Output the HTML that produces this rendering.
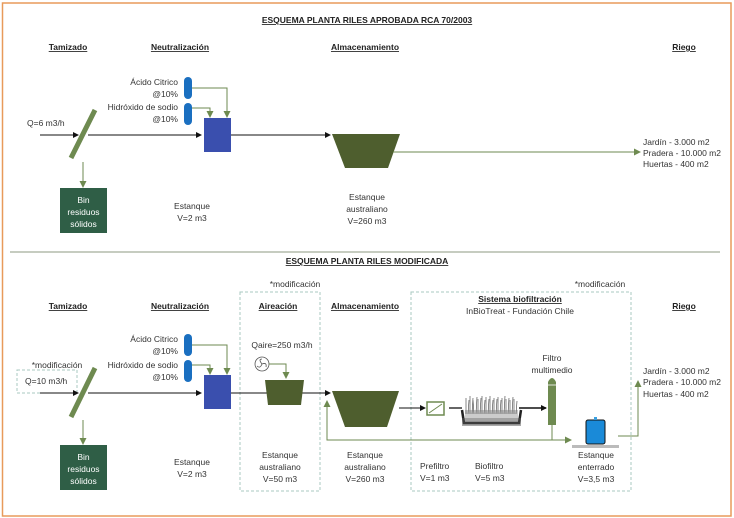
<!DOCTYPE html>
<html><head><meta charset="utf-8"><style>
html,body{margin:0;padding:0;background:#fff}
svg{display:block}
text{font-family:"Liberation Sans",sans-serif;fill:#333;font-size:8.5px}
.h{font-weight:bold;text-decoration:underline;fill:#222}
.w{fill:#fff}
</style></head><body>
<svg width="734" height="518" viewBox="0 0 734 518" xmlns="http://www.w3.org/2000/svg">
<defs>
<marker id="ab" markerWidth="6" markerHeight="6" refX="5" refY="3" orient="auto" markerUnits="userSpaceOnUse"><path d="M0,0 L6,3 L0,6z" fill="#111"/></marker>
<marker id="ag" markerWidth="7" markerHeight="7" refX="6" refY="3.5" orient="auto" markerUnits="userSpaceOnUse"><path d="M0,0 L7,3.5 L0,7z" fill="#6e8a50"/></marker>
</defs>
<rect x="2.5" y="3" width="728.5" height="513" fill="none" stroke="#e89a5a" stroke-width="1.5"/>
<line x1="10" y1="252" x2="720" y2="252" stroke="#8c9a80" stroke-width="1"/>

<!-- TOP -->
<text x="367" y="23" class="h" text-anchor="middle" font-size="9">ESQUEMA PLANTA RILES APROBADA RCA 70/2003</text>
<text x="68" y="50" class="h" text-anchor="middle">Tamizado</text>
<text x="180" y="50" class="h" text-anchor="middle">Neutralización</text>
<text x="365" y="50" class="h" text-anchor="middle">Almacenamiento</text>
<text x="684" y="50" class="h" text-anchor="middle">Riego</text>
<text x="27" y="126">Q=6 m3/h</text>
<line x1="40" y1="135" x2="78" y2="135" stroke="#111" marker-end="url(#ab)"/>
<line x1="88" y1="135" x2="201" y2="135" stroke="#111" marker-end="url(#ab)"/>
<line x1="231" y1="135" x2="330" y2="135" stroke="#111" marker-end="url(#ab)"/>
<line x1="95" y1="110" x2="71" y2="158" stroke="#6e8a50" stroke-width="5"/>
<line x1="83" y1="162" x2="83" y2="187" stroke="#6e8a50" marker-end="url(#ag)"/>
<rect x="60" y="188" width="47" height="45" fill="#2f5e46"/>
<text x="83.5" y="203" class="w" text-anchor="middle">Bin</text>
<text x="83.5" y="215" class="w" text-anchor="middle">residuos</text>
<text x="83.5" y="227" class="w" text-anchor="middle">sólidos</text>
<text x="178" y="85" text-anchor="end">Ácido Citrico</text>
<text x="178" y="97" text-anchor="end">@10%</text>
<text x="178" y="110" text-anchor="end">Hidróxido de sodio</text>
<text x="178" y="122" text-anchor="end">@10%</text>
<rect x="184" y="77" width="8" height="22" rx="4" fill="#1a6fc0"/>
<rect x="184" y="103" width="8" height="22" rx="4" fill="#1a6fc0"/>
<polyline points="192,88 227,88 227,117" fill="none" stroke="#6e8a50" marker-end="url(#ag)"/>
<polyline points="192,108 210,108 210,117" fill="none" stroke="#6e8a50" marker-end="url(#ag)"/>
<rect x="204" y="118" width="27" height="34" fill="#3a4fae"/>
<polygon points="332,134 400,134 388,168 345,168" fill="#4e5e2e"/>
<line x1="393" y1="152" x2="640" y2="152" stroke="#6e8a50" marker-end="url(#ag)"/>
<text x="643" y="145">Jardín   - 3.000 m2</text>
<text x="643" y="156">Pradera - 10.000 m2</text>
<text x="643" y="167">Huertas - 400 m2</text>
<text x="192" y="209" text-anchor="middle">Estanque</text>
<text x="192" y="221" text-anchor="middle">V=2 m3</text>
<text x="367" y="200" text-anchor="middle">Estanque</text>
<text x="367" y="212" text-anchor="middle">australiano</text>
<text x="367" y="224" text-anchor="middle">V=260 m3</text>

<!-- BOTTOM -->
<text x="367" y="264" class="h" text-anchor="middle" font-size="9">ESQUEMA PLANTA RILES MODIFICADA</text>
<text x="68" y="309" class="h" text-anchor="middle">Tamizado</text>
<text x="180" y="309" class="h" text-anchor="middle">Neutralización</text>
<text x="278" y="309" class="h" text-anchor="middle">Aireación</text>
<text x="365" y="309" class="h" text-anchor="middle">Almacenamiento</text>
<text x="520" y="302" class="h" text-anchor="middle">Sistema biofiltración</text>
<text x="520" y="314" text-anchor="middle">InBioTreat - Fundación Chile</text>
<text x="684" y="309" class="h" text-anchor="middle">Riego</text>
<text x="295" y="287" font-size="6" text-anchor="middle">*modificación</text>
<text x="600" y="287" font-size="6" text-anchor="middle">*modificación</text>
<text x="57" y="368" font-size="6" text-anchor="middle">*modificación</text>
<rect x="240" y="292" width="80" height="199" fill="none" stroke="#a8c8c0" stroke-dasharray="3,2"/>
<rect x="411" y="292" width="220" height="199" fill="none" stroke="#a8c8c0" stroke-dasharray="3,2"/>
<rect x="17" y="370" width="60" height="23" fill="none" stroke="#a8c8c0" stroke-dasharray="3,2"/>
<text x="25" y="384">Q=10 m3/h</text>
<line x1="40" y1="393" x2="78" y2="393" stroke="#111" marker-end="url(#ab)"/>
<line x1="88" y1="393" x2="201" y2="393" stroke="#111" marker-end="url(#ab)"/>
<line x1="231" y1="393" x2="330" y2="393" stroke="#111" marker-end="url(#ab)"/>
<line x1="95" y1="368" x2="71" y2="417" stroke="#6e8a50" stroke-width="5"/>
<line x1="83" y1="420" x2="83" y2="444" stroke="#6e8a50" marker-end="url(#ag)"/>
<rect x="60" y="445" width="47" height="45" fill="#2f5e46"/>
<text x="83.5" y="460" class="w" text-anchor="middle">Bin</text>
<text x="83.5" y="472" class="w" text-anchor="middle">residuos</text>
<text x="83.5" y="484" class="w" text-anchor="middle">sólidos</text>
<text x="178" y="342" text-anchor="end">Ácido Citrico</text>
<text x="178" y="354" text-anchor="end">@10%</text>
<text x="178" y="368" text-anchor="end">Hidróxido de sodio</text>
<text x="178" y="380" text-anchor="end">@10%</text>
<rect x="184" y="334" width="8" height="22" rx="4" fill="#1a6fc0"/>
<rect x="184" y="360" width="8" height="22" rx="4" fill="#1a6fc0"/>
<polyline points="192,345 227,345 227,374" fill="none" stroke="#6e8a50" marker-end="url(#ag)"/>
<polyline points="192,365 210,365 210,374" fill="none" stroke="#6e8a50" marker-end="url(#ag)"/>
<rect x="204" y="375" width="27" height="34" fill="#3a4fae"/>
<text x="282" y="348" font-size="9" text-anchor="middle">Qaire=250 m3/h</text>
<circle cx="262" cy="364" r="7" fill="#fff" stroke="#555" stroke-width="0.8"/>
<path d="M262,364 q-4,-5 0,-5 M262,364 q5,-2 4,3 M262,364 q-2,5 -5,2" fill="none" stroke="#555" stroke-width="0.8"/>
<polyline points="269,364 286,364 286,378" fill="none" stroke="#6e8a50" marker-end="url(#ag)"/>
<polygon points="265,380 304,380 301,405 268,405" fill="#4e5e2e"/>
<polygon points="332,391 399,391 387,427 345,427" fill="#4e5e2e"/>
<polyline points="570,440 327,440 327,401" fill="none" stroke="#6e8a50" marker-end="url(#ag)"/>
<line x1="552" y1="425" x2="552" y2="440" stroke="#6e8a50"/>
<line x1="540" y1="440" x2="571" y2="440" stroke="#6e8a50" marker-end="url(#ag)"/>
<line x1="399" y1="408" x2="425" y2="408" stroke="#111" marker-end="url(#ab)"/>
<rect x="427" y="402" width="17" height="13" fill="#fff" stroke="#6e8a50" stroke-width="1.5"/>
<line x1="429" y1="413" x2="442" y2="404" stroke="#6e8a50"/>
<line x1="449" y1="408" x2="462" y2="408" stroke="#333" stroke-width="1.5"/>
<path d="M462,410 L464,423 L519,423 L521,410" fill="none" stroke="#222" stroke-width="2.5"/>
<rect x="462" y="418" width="59" height="8" fill="#555" opacity="0.5"/>
<rect x="465" y="410" width="53" height="11" fill="#999" opacity="0.5"/>
<g stroke="#555" stroke-width="0.7">
<path d="M466,414 l0,-16 M468,414 l1,-14 M470,414 l0,-18 M472,414 l1,-16 M474,414 l-1,-14 M476,414 l1,-17 M478,414 l0,-15 M480,414 l1,-16 M482,414 l0,-18 M484,414 l1,-14 M486,414 l0,-17 M488,414 l1,-15 M490,414 l0,-18 M492,414 l1,-14 M494,414 l0,-16 M496,414 l1,-15 M498,414 l0,-17 M500,414 l1,-14 M502,414 l0,-16 M504,414 l1,-18 M506,414 l0,-15 M508,414 l1,-16 M510,414 l0,-14 M512,414 l1,-17 M514,414 l0,-15 M516,414 l1,-13"/>
</g>
<line x1="519" y1="408" x2="546" y2="408" stroke="#111" stroke-width="1.5" marker-end="url(#ab)"/>
<path d="M548,425 L548,382 Q552,374 556,382 L556,425z" fill="#6e8a50"/>
<line x1="548" y1="385" x2="556" y2="385" stroke="#fff" stroke-width="0.8"/>
<text x="552" y="361" text-anchor="middle">Filtro</text>
<text x="552" y="373" text-anchor="middle">multimedio</text>
<rect x="572" y="445" width="47" height="3" fill="#bbb"/>
<rect x="586" y="420" width="19" height="24" rx="2" fill="#1a8ad8" stroke="#111" stroke-width="1"/>
<rect x="594" y="417" width="3" height="3" fill="#3aa0e0"/>
<polyline points="618,436 638,436 638,381" fill="none" stroke="#6e8a50" marker-end="url(#ag)"/>
<text x="643" y="374">Jardín   - 3.000 m2</text>
<text x="643" y="385">Pradera - 10.000 m2</text>
<text x="643" y="397">Huertas - 400 m2</text>
<text x="192" y="465" text-anchor="middle">Estanque</text>
<text x="192" y="477" text-anchor="middle">V=2 m3</text>
<text x="280" y="458" text-anchor="middle">Estanque</text>
<text x="280" y="470" text-anchor="middle">australiano</text>
<text x="280" y="482" text-anchor="middle">V=50 m3</text>
<text x="365" y="458" text-anchor="middle">Estanque</text>
<text x="365" y="470" text-anchor="middle">australiano</text>
<text x="365" y="482" text-anchor="middle">V=260 m3</text>
<text x="420" y="469">Prefiltro</text>
<text x="420" y="481">V=1 m3</text>
<text x="475" y="469">Biofiltro</text>
<text x="475" y="481">V=5 m3</text>
<text x="596" y="458" text-anchor="middle">Estanque</text>
<text x="596" y="470" text-anchor="middle">enterrado</text>
<text x="596" y="482" text-anchor="middle">V=3,5 m3</text>
</svg>
</body></html>
